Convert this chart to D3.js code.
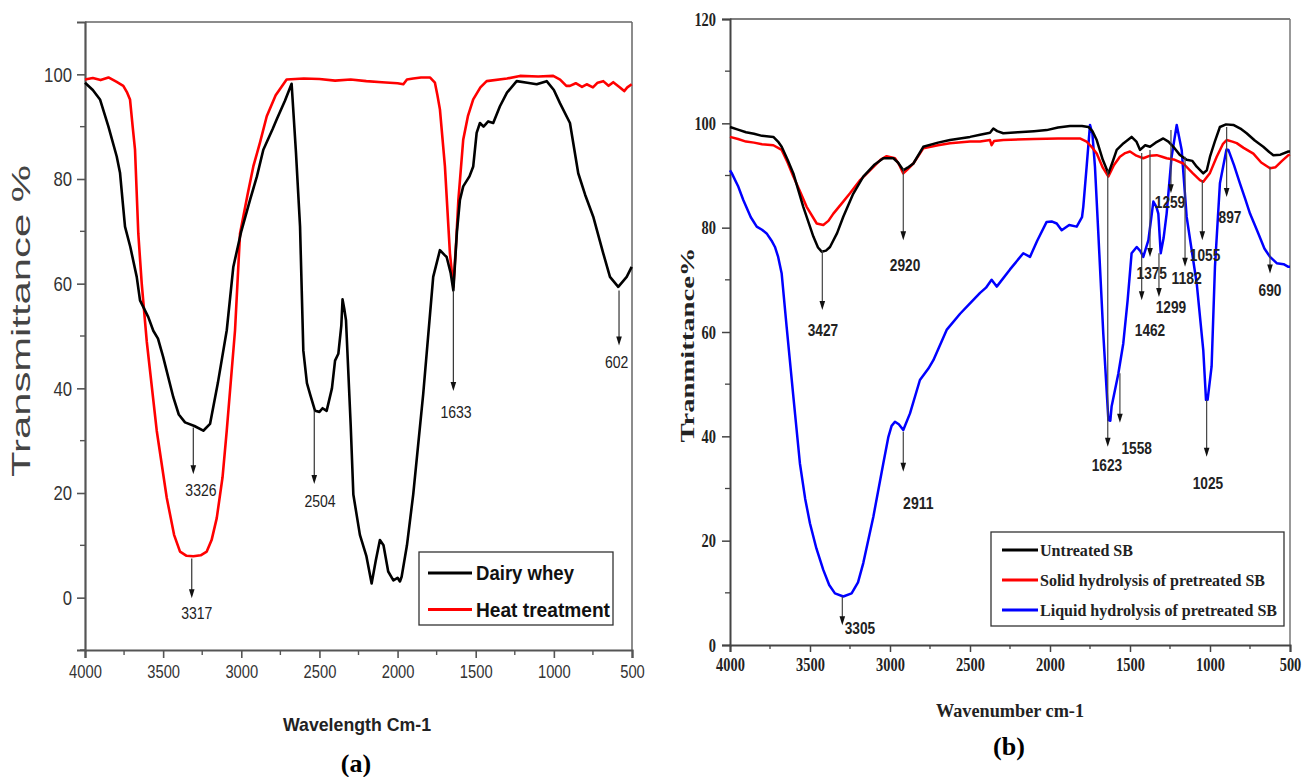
<!DOCTYPE html>
<html><head><meta charset="utf-8">
<script src="https://cdn.jsdelivr.net/npm/d3@7"></script>
<style>
body{margin:0;background:#fff;}
svg{display:block;}
</style></head><body>
<svg id="chart" width="1311" height="777"></svg>
<script>
// ---------------- DATA ----------------
const xTickValues = [4000,3500,3000,2500,2000,1500,1000,500];
const yTicksA = [0,20,40,60,80,100];
const yTicksB = [0,20,40,60,80,100,120];

const seriesNamesA = ["Dairy whey","Heat treatment"];
const seriesNamesB = ["Untreated SB","Solid hydrolysis of pretreated SB","Liquid hydrolysis of pretreated SB"];

// Panel (a): [wavenumber, transmittance %]
const dairyWhey = [[4000,98.4],[3950,97],[3904,95.2],[3850,90],[3797,84.3],[3776,81.2],[3760,76],[3744,70.9],[3710,67],[3669,61.3],[3648,56.8],[3595,53.6],[3563,51],[3533,49.5],[3500,46],[3435,38.3],[3400,35],[3360,33.5],[3300,32.8],[3243,31.9],[3200,33.2],[3150,41],[3093,51.1],[3051,63.2],[3000,70],[2944,76],[2900,80.5],[2859,85.6],[2800,89.5],[2773,91.4],[2720,95],[2678,98.2],[2650,85],[2624,70.9],[2603,47.2],[2580,41],[2560,38.9],[2528,35.7],[2500,35.5],[2480,36.2],[2454,35.7],[2420,40],[2400,45.3],[2379,46.6],[2360,52],[2352,57],[2340,55],[2330,53],[2300,33],[2283,19.7],[2241,12],[2200,8],[2166,2.7],[2140,7],[2113,11],[2090,10],[2060,5],[2027,3.3],[2000,3.8],[1985,3.1],[1974,4],[1940,10],[1900,19.7],[1836,38.9],[1772,61.3],[1729,66.4],[1700,65.5],[1686,65.1],[1660,62],[1643,58.7],[1620,70],[1601,76],[1580,78.6],[1540,80.5],[1516,82.4],[1494,88.8],[1473,90.7],[1450,90],[1420,91],[1388,90.7],[1345,93.9],[1300,96.5],[1238,98.7],[1170,98.4],[1110,98.1],[1046,98.7],[1000,97],[961,94.5],[897,90.7],[844,81.1],[800,77],[748,72.8],[684,65.8],[641,61.3],[588,59.4],[534,61.3],[502,63.2]];

const heatTreatment = [[4000,99],[3950,99.3],[3900,98.9],[3850,99.4],[3800,98.6],[3755,97.8],[3730,96.5],[3712,95.2],[3695,90],[3680,85.6],[3659,69.6],[3637,60],[3605,49],[3541,31.9],[3477,19.1],[3430,12],[3392,8.8],[3350,8],[3307,7.9],[3260,8.1],[3221,8.8],[3190,11],[3157,15.2],[3120,23],[3093,31.9],[3040,51.1],[3008,69.6],[2960,77],[2923,82.4],[2880,87],[2837,92],[2780,96],[2710,99],[2600,99.2],[2500,99.1],[2400,98.8],[2300,99],[2200,98.7],[2100,98.5],[2000,98.3],[1963,98.1],[1940,99],[1900,99.2],[1850,99.4],[1793,99.4],[1761,98.4],[1745,96],[1729,93.3],[1697,82.4],[1665,65.8],[1643,59.4],[1625,68],[1611,76],[1580,87.5],[1550,92],[1516,95.2],[1470,97.5],[1430,98.7],[1300,99.2],[1217,99.7],[1100,99.6],[1004,99.7],[960,99],[920,97.8],[897,97.8],[860,98.3],[820,97.6],[790,98.1],[750,97.5],[720,98.4],[684,98.7],[650,97.8],[620,98.5],[577,97.5],[550,96.8],[530,97.5],[502,98.1]];

// Panel (b)
const untreatedSB = [[4000,99.3],[3950,98.8],[3900,98.3],[3850,98],[3800,97.6],[3729,97.4],[3700,96.5],[3677,95.5],[3640,93],[3604,90.4],[3542,84],[3479,78.3],[3450,76.2],[3427,75.4],[3400,75.6],[3375,76.3],[3330,79],[3292,82.1],[3230,86.5],[3167,89.8],[3100,92],[3042,93.3],[2979,93.3],[2950,92.5],[2917,91],[2890,91.5],[2854,92.3],[2792,95.5],[2700,96.3],[2625,96.8],[2500,97.4],[2437,97.8],[2375,98.2],[2354,99],[2330,98.5],[2292,98.1],[2200,98.3],[2100,98.5],[2021,98.7],[1950,99.2],[1875,99.5],[1800,99.5],[1760,99.3],[1735,98.5],[1708,96.8],[1670,93],[1635,90.4],[1610,92.5],[1583,94.9],[1540,96.2],[1490,97.4],[1460,96.5],[1437,94.9],[1405,95.8],[1375,95.5],[1340,96.3],[1292,97.1],[1260,96.5],[1229,95.5],[1190,94],[1146,93],[1110,92.8],[1083,91.7],[1042,90.4],[1020,91],[1000,93.6],[970,96.5],[938,99.3],[900,99.8],[854,99.7],[810,99],[771,98.1],[720,96.7],[667,95.5],[630,94.5],[604,93.9],[560,94],[510,94.6],[500,94.6]];

const solidSB = [[4000,97.4],[3950,97],[3900,96.5],[3850,96.3],[3800,96],[3729,95.8],[3677,94.9],[3640,92.5],[3604,89.8],[3560,86.8],[3521,84],[3458,80.8],[3417,80.5],[3385,81.3],[3354,82.7],[3300,84.7],[3250,86.6],[3190,89],[3125,91],[3060,93],[3021,93.7],[2969,93.3],[2945,92.2],[2917,90.4],[2890,91.2],[2854,92.3],[2792,95.2],[2700,95.8],[2625,96.2],[2500,96.5],[2437,96.5],[2375,96.8],[2365,95.8],[2350,96.6],[2292,96.8],[2100,97],[1950,97.1],[1813,97.1],[1771,96.5],[1740,95.5],[1708,94.2],[1670,91.5],[1635,89.8],[1600,92],[1563,93.6],[1530,94.3],[1500,94.6],[1460,93.8],[1417,93.3],[1375,93.8],[1333,93.9],[1300,93.6],[1271,93.3],[1220,93],[1167,92.3],[1110,90.5],[1063,89.1],[1042,88.8],[1000,90.5],[958,93.6],[920,96],[896,96.8],[860,96.5],[833,96.2],[790,95.3],[729,94.2],[680,92.5],[625,91.4],[590,91.6],[550,92.8],[510,93.9],[500,94]];

const liquidSB = [[4000,91],[3990,90.5],[3950,88],[3917,85.3],[3870,82],[3833,80.2],[3800,79.6],[3771,78.9],[3740,77.5],[3719,76.3],[3700,74.5],[3677,71.2],[3646,61],[3604,47.6],[3563,34.8],[3530,28],[3500,23.3],[3460,18.5],[3417,14.4],[3380,11.5],[3344,9.9],[3292,9.3],[3240,9.9],[3200,12],[3167,15.7],[3104,24.6],[3042,34.8],[3010,39.9],[2990,42],[2969,42.8],[2945,42.3],[2917,41.2],[2875,44.4],[2813,50.8],[2760,53],[2729,54.6],[2646,60.4],[2562,63.5],[2500,65.5],[2437,67.5],[2400,68.5],[2365,70],[2333,68.7],[2250,72],[2167,75.1],[2125,74.4],[2080,77.5],[2021,81.1],[1990,81.2],[1958,80.8],[1927,79.5],[1880,80.5],[1833,80.2],[1800,82],[1792,84],[1771,91.7],[1750,99.7],[1735,98],[1719,91.7],[1698,78.9],[1667,59.7],[1635,43.1],[1623,43],[1615,45.7],[1573,52],[1542,57.8],[1515,66],[1490,75.1],[1458,76.3],[1435,75.5],[1417,74.4],[1385,77.6],[1354,85],[1335,84],[1323,82.7],[1308,75.1],[1290,78],[1271,82.7],[1240,93.6],[1208,99.7],[1177,94.9],[1146,82.1],[1083,69.3],[1042,56.5],[1025,47],[1015,47],[990,53.4],[969,72.5],[938,88.5],[897,95],[885,94.9],[850,92],[813,88.5],[780,85.5],[750,82.7],[720,80.5],[698,78.9],[660,76],[625,74.4],[583,73.2],[540,73],[510,72.5],[500,72.5]];

// Peak annotations: label, wavenumber of the arrow, arrow start/end (transmittance), label position (wavenumber, transmittance)
const annotationsA = [
  {label:"3326", wn:3307, from:32.5, to:23.6, lw:3258, lv:20.5},
  {label:"3317", wn:3317, from:7.5,  to:-0.1, lw:3285, lv:-3},
  {label:"2504", wn:2533, from:35.7, to:21.7, lw:2496, lv:18.4},
  {label:"1633", wn:1643, from:58.7, to:39.5, lw:1626, lv:35.4},
  {label:"602",  wn:583,  from:58.7, to:48.2, lw:598,  lv:45}
];
const annotationsB = [
  {label:"3427", wn:3423, from:75.7, to:64.2, lw:3419, lv:60.4},
  {label:"2920", wn:2917, from:91.4, to:77.6, lw:2906, lv:72.8},
  {label:"3305", wn:3298, from:9.3,  to:3.8,  lw:3188, lv:3.3},
  {label:"2911", wn:2917, from:40.9, to:33.2, lw:2823, lv:27.2},
  {label:"1623", wn:1639, from:91,   to:38,   lw:1644, lv:34.5},
  {label:"1558", wn:1563, from:52.1, to:42.6, lw:1458, lv:37.8},
  {label:"1462", wn:1427, from:94.3, to:66.1, lw:1375, lv:60.4},
  {label:"1375", wn:1375, from:94.9, to:74.4, lw:1364, lv:71.3},
  {label:"1299", wn:1319, from:75.1, to:66.7, lw:1244, lv:64.8},
  {label:"1259", wn:1244, from:98.7, to:86.6, lw:1250, lv:84.9},
  {label:"1182", wn:1156, from:93.6, to:72.5, lw:1146, lv:70.3},
  {label:"1055", wn:1048, from:89.1, to:77.6, lw:1031, lv:74.8},
  {label:"1025", wn:1021, from:47,   to:36.1, lw:1013, lv:31.1},
  {label:"897",  wn:896,  from:99.3, to:85.9, lw:875,  lv:82.1},
  {label:"690",  wn:625,  from:91.7, to:71.2, lw:625,  lv:68}
];

// ---------------- DRAW ----------------
const svg = d3.select("#chart");
const NARROW = "'Liberation Sans Narrow','Arial Narrow','Liberation Sans',Arial,sans-serif";
const SERIF = "'Liberation Serif','Times New Roman',serif";

function arrow(g, x, y1, y2, color) {
  g.append("line").attr("x1",x).attr("x2",x).attr("y1",y1).attr("y2",y2-3)
    .attr("stroke",color).attr("stroke-width",1.2);
  g.append("path").attr("d",`M${x-2.8},${y2-9} L${x+2.8},${y2-9} L${x},${y2} Z`).attr("fill","#111");
}

// ===== Panel (a) =====
(function(){
  const x = d3.scaleLinear().domain([4000,500]).range([85,632]);
  const y = d3.scaleLinear().domain([-10,110]).range([650,22]);
  const g = svg.append("g");
  const axisColor = "#555";
  g.append("line").attr("x1",85).attr("x2",632).attr("y1",22).attr("y2",22).attr("stroke","#666").attr("stroke-width",1.5);
  g.append("line").attr("x1",632).attr("x2",632).attr("y1",22).attr("y2",650).attr("stroke","#666").attr("stroke-width",1.5);

  const xa = g.append("g").attr("transform","translate(0,650)")
    .call(d3.axisBottom(x).tickValues(xTickValues).tickSize(8).tickFormat(d3.format("d")));
  xa.select(".domain").attr("stroke",axisColor).attr("stroke-width",2.2);
  xa.selectAll(".tick line").attr("stroke",axisColor).attr("stroke-width",1.6);
  xa.selectAll(".tick text").attr("font-family",NARROW).attr("font-size",19).attr("fill","#333")
    .attr("dy","0.9em").attr("textLength",d=>String(d).length*8.2).attr("lengthAdjust","spacingAndGlyphs");
  const xMinor = d3.range(3750,500,-500);
  g.append("g").attr("transform","translate(0,650)").selectAll("line").data(xMinor).join("line")
    .attr("x1",d=>x(d)).attr("x2",d=>x(d)).attr("y1",0).attr("y2",5).attr("stroke",axisColor).attr("stroke-width",1.4);

  const ya = g.append("g").attr("transform","translate(85,0)")
    .call(d3.axisLeft(y).tickValues(yTicksA).tickSize(8).tickPadding(5));
  ya.select(".domain").attr("stroke",axisColor).attr("stroke-width",2.2);
  ya.selectAll(".tick line").attr("stroke",axisColor).attr("stroke-width",1.6);
  ya.selectAll(".tick text").attr("font-family",NARROW).attr("font-size",21).attr("fill","#333")
    .attr("textLength",d=>String(d).length*9.3).attr("lengthAdjust","spacingAndGlyphs");
  const yMinor = [-10,10,30,50,70,90];
  g.append("g").attr("transform","translate(85,0)").selectAll("line").data(yMinor).join("line")
    .attr("x1",0).attr("x2",-5).attr("y1",d=>y(d)).attr("y2",d=>y(d)).attr("stroke",axisColor).attr("stroke-width",1.4);

  const line = d3.line().x(d=>x(d[0])).y(d=>y(d[1]));
  g.append("path").datum(heatTreatment).attr("d",line).attr("fill","none").attr("stroke","#ff0000").attr("stroke-width",2.6).attr("stroke-linejoin","round");
  g.append("path").datum(dairyWhey).attr("d",line).attr("fill","none").attr("stroke","#000").attr("stroke-width",2.6).attr("stroke-linejoin","round");

  annotationsA.forEach(a=>{
    arrow(g, x(a.wn), y(a.from), y(a.to), "#333");
    g.append("text").attr("x",x(a.lw)).attr("y",y(a.lv)+6).attr("text-anchor","middle")
      .attr("font-family",NARROW).attr("font-size",16).attr("fill","#222")
      .attr("textLength",a.label.length*7.8).attr("lengthAdjust","spacingAndGlyphs").text(a.label);
  });

  const lg = g.append("g");
  lg.append("rect").attr("x",419).attr("y",552).attr("width",194).attr("height",73)
    .attr("fill","#fff").attr("stroke","#333").attr("stroke-width",1.3);
  const colorsA = ["#000","#ff0000"];
  seriesNamesA.forEach((n,i)=>{
    const yy = 573 + i*36.5;
    lg.append("line").attr("x1",428).attr("x2",472).attr("y1",yy).attr("y2",yy).attr("stroke",colorsA[i]).attr("stroke-width",3);
    lg.append("text").attr("x",476).attr("y",yy+7).attr("font-family",NARROW).attr("font-weight","bold")
      .attr("font-size",20).attr("fill","#111").text(n)
      .attr("textLength", i===0 ? 98 : 134).attr("lengthAdjust","spacingAndGlyphs");
  });

  g.append("text").attr("transform","translate(30,321) rotate(-90)").attr("text-anchor","middle")
    .attr("font-family","'Liberation Sans',Arial,sans-serif").attr("font-size",26).attr("fill","#444")
    .attr("textLength",312).attr("lengthAdjust","spacingAndGlyphs").text("Transmittance %");
  g.append("text").attr("x",357).attr("y",731).attr("text-anchor","middle")
    .attr("font-family",NARROW).attr("font-weight","bold").attr("font-size",19).attr("fill","#222")
    .attr("textLength",148).attr("lengthAdjust","spacingAndGlyphs").text("Wavelength Cm-1");
  g.append("text").attr("x",356).attr("y",772).attr("text-anchor","middle")
    .attr("font-family",SERIF).attr("font-weight","bold").attr("font-size",26).attr("fill","#000").text("(a)");
})();

// ===== Panel (b) =====
(function(){
  const x = d3.scaleLinear().domain([4000,500]).range([730,1290]);
  const y = d3.scaleLinear().domain([0,120]).range([645,19]);
  const g = svg.append("g");
  const axisColor = "#444";
  g.append("line").attr("x1",730).attr("x2",1290).attr("y1",19).attr("y2",19).attr("stroke","#555").attr("stroke-width",1.5);
  g.append("line").attr("x1",1290).attr("x2",1290).attr("y1",19).attr("y2",645).attr("stroke","#777").attr("stroke-width",1.5);

  const xa = g.append("g").attr("transform","translate(0,645)")
    .call(d3.axisBottom(x).tickValues(xTickValues).tickSize(7).tickFormat(d3.format("d")));
  xa.select(".domain").attr("stroke",axisColor).attr("stroke-width",2);
  xa.selectAll(".tick line").attr("stroke",axisColor).attr("stroke-width",1.5);
  xa.selectAll(".tick text").attr("font-family",SERIF).attr("font-weight","bold").attr("font-size",18).attr("fill","#222")
    .attr("dy","0.9em").attr("textLength",d=>String(d).length*7.2).attr("lengthAdjust","spacingAndGlyphs");
  const xMinor = d3.range(3750,500,-500);
  g.append("g").attr("transform","translate(0,645)").selectAll("line").data(xMinor).join("line")
    .attr("x1",d=>x(d)).attr("x2",d=>x(d)).attr("y1",0).attr("y2",4).attr("stroke",axisColor).attr("stroke-width",1.3);

  const ya = g.append("g").attr("transform","translate(730,0)")
    .call(d3.axisLeft(y).tickValues(yTicksB).tickSize(8).tickPadding(6));
  ya.select(".domain").attr("stroke",axisColor).attr("stroke-width",2);
  ya.selectAll(".tick line").attr("stroke",axisColor).attr("stroke-width",1.5);
  ya.selectAll(".tick text").attr("font-family",SERIF).attr("font-weight","bold").attr("font-size",19).attr("fill","#222")
    .attr("textLength",d=>String(d).length*7.2).attr("lengthAdjust","spacingAndGlyphs");
  const yMinor = [10,30,50,70,90,110];
  g.append("g").attr("transform","translate(730,0)").selectAll("line").data(yMinor).join("line")
    .attr("x1",0).attr("x2",-5).attr("y1",d=>y(d)).attr("y2",d=>y(d)).attr("stroke",axisColor).attr("stroke-width",1.3);

  const line = d3.line().x(d=>x(d[0])).y(d=>y(d[1]));
  g.append("path").datum(liquidSB).attr("d",line).attr("fill","none").attr("stroke","#0000ff").attr("stroke-width",2.5).attr("stroke-linejoin","round");
  g.append("path").datum(solidSB).attr("d",line).attr("fill","none").attr("stroke","#ff0000").attr("stroke-width",2.5).attr("stroke-linejoin","round");
  g.append("path").datum(untreatedSB).attr("d",line).attr("fill","none").attr("stroke","#000").attr("stroke-width",2.5).attr("stroke-linejoin","round");

  annotationsB.forEach(a=>{
    arrow(g, x(a.wn), y(a.from), y(a.to), "#444");
    g.append("text").attr("x",x(a.lw)).attr("y",y(a.lv)+6).attr("text-anchor","middle")
      .attr("font-family",NARROW).attr("font-weight","bold").attr("font-size",16).attr("fill","#222")
      .attr("textLength",a.label.length*7.6).attr("lengthAdjust","spacingAndGlyphs").text(a.label);
  });

  const lg = g.append("g");
  lg.append("rect").attr("x",991).attr("y",532).attr("width",293).attr("height",94)
    .attr("fill","#fff").attr("stroke","#333").attr("stroke-width",1.3);
  const colorsB = ["#000","#ff0000","#0000ff"];
  const lensB = [93,225,237];
  seriesNamesB.forEach((n,i)=>{
    const yy = 550 + i*30;
    lg.append("line").attr("x1",1002).attr("x2",1038).attr("y1",yy).attr("y2",yy).attr("stroke",colorsB[i]).attr("stroke-width",3);
    lg.append("text").attr("x",1040).attr("y",yy+6).attr("font-family",SERIF).attr("font-weight","bold")
      .attr("font-size",17).attr("fill","#222").text(n)
      .attr("textLength",lensB[i]).attr("lengthAdjust","spacingAndGlyphs");
  });

  g.append("text").attr("transform","translate(694,345) rotate(-90)").attr("text-anchor","middle")
    .attr("font-family",SERIF).attr("font-weight","bold").attr("font-size",19).attr("fill","#222")
    .attr("textLength",195).attr("lengthAdjust","spacingAndGlyphs").text("Tranmittance%");
  g.append("text").attr("x",1010).attr("y",717).attr("text-anchor","middle")
    .attr("font-family",SERIF).attr("font-size",19).attr("fill","#222").attr("font-weight","bold")
    .attr("textLength",148).attr("lengthAdjust","spacingAndGlyphs").text("Wavenumber cm-1");
  g.append("text").attr("x",1009).attr("y",755).attr("text-anchor","middle")
    .attr("font-family",SERIF).attr("font-weight","bold").attr("font-size",26).attr("fill","#000").text("(b)");
})();
</script>
</body></html>
